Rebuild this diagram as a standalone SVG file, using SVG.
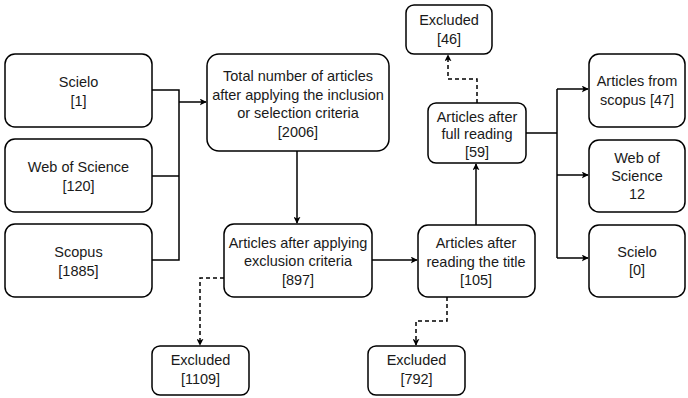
<svg xmlns="http://www.w3.org/2000/svg" width="688" height="398" viewBox="0 0 688 398">
<defs>
<style>
.box{fill:#fff;stroke:#000;stroke-width:1.5}
.t{font-family:"Liberation Sans",Arial,sans-serif;font-size:14.5px;fill:#1a1a1a;text-anchor:middle}
.c{fill:none;stroke:#000;stroke-width:1.5}
.d{fill:none;stroke:#000;stroke-width:1.5;stroke-dasharray:4 3}
</style>
<marker id="a" viewBox="0 0 10 10" refX="9" refY="5" markerWidth="7" markerHeight="7" markerUnits="userSpaceOnUse" orient="auto">
<path d="M0,0 L10,5 L0,10 L2.5,5 Z" fill="#000"/>
</marker>
</defs>
<rect width="688" height="398" fill="#fff"/>
<g id="connectors">
<path class="c" d="M152,90 H179 V260 H152"/>
<path class="c" d="M152,176 H179"/>
<path class="c" d="M179,102 H206" marker-end="url(#a)"/>
<path class="c" d="M297,151 V223" marker-end="url(#a)"/>
<path class="c" d="M372,260 H417" marker-end="url(#a)"/>
<path class="c" d="M476,225 V164" marker-end="url(#a)"/>
<path class="c" d="M526,133 H557 M557,89 V258"/>
<path class="c" d="M557,89 H588" marker-end="url(#a)"/>
<path class="c" d="M557,175 H588" marker-end="url(#a)"/>
<path class="c" d="M557,258 H588" marker-end="url(#a)"/>
<path class="d" d="M477,103 V79 H448 V55" marker-end="url(#a)"/>
<path class="d" d="M224,278 H200 V345" marker-end="url(#a)"/>
<path class="d" d="M447,297 V321 H416 V345" marker-end="url(#a)"/>
</g>
<g id="scielo"><rect class="box" x="5" y="54" width="147" height="73" rx="10"/><text class="t" x="78.5" y="87">Scielo</text><text class="t" x="78.5" y="106">[1]</text></g>
<g id="wos"><rect class="box" x="5" y="139" width="147" height="73" rx="10"/><text class="t" x="78.5" y="172">Web of Science</text><text class="t" x="78.5" y="191">[120]</text></g>
<g id="scopus"><rect class="box" x="5" y="224" width="147" height="73" rx="10"/><text class="t" x="78.5" y="257">Scopus</text><text class="t" x="78.5" y="276">[1885]</text></g>
<g id="total"><rect class="box" x="207" y="54" width="182" height="97" rx="12"/><text class="t" x="298" y="81">Total number of articles</text><text class="t" x="298" y="99.5">after applying the inclusion</text><text class="t" x="298" y="118">or selection criteria</text><text class="t" x="298" y="136.5">[2006]</text></g>
<g id="exclusion"><rect class="box" x="224" y="224" width="148" height="73" rx="10"/><text class="t" x="298" y="248">Articles after applying</text><text class="t" x="298" y="266">exclusion criteria</text><text class="t" x="298" y="285">[897]</text></g>
<g id="title"><rect class="box" x="418" y="225" width="117" height="72" rx="10"/><text class="t" x="476" y="248">Articles after</text><text class="t" x="476" y="266.5">reading the title</text><text class="t" x="476" y="285">[105]</text></g>
<g id="full"><rect class="box" x="428" y="103" width="98" height="60" rx="8"/><text class="t" x="477" y="122">Articles after</text><text class="t" x="477" y="139">full reading</text><text class="t" x="477" y="157">[59]</text></g>
<g id="exc46"><rect class="box" x="406" y="5" width="86" height="49" rx="8"/><text class="t" x="449" y="25">Excluded</text><text class="t" x="449" y="44">[46]</text></g>
<g id="exc1109"><rect class="box" x="152" y="346" width="97" height="49" rx="8"/><text class="t" x="200.5" y="365">Excluded</text><text class="t" x="200.5" y="384">[1109]</text></g>
<g id="exc792"><rect class="box" x="368" y="346" width="97" height="49" rx="8"/><text class="t" x="416.5" y="365">Excluded</text><text class="t" x="416.5" y="384">[792]</text></g>
<g id="r-scopus"><rect class="box" x="589" y="54" width="96" height="73" rx="10"/><text class="t" x="637" y="86">Articles from</text><text class="t" x="637" y="105">scopus [47]</text></g>
<g id="r-wos"><rect class="box" x="589" y="140" width="96" height="72" rx="10"/><text class="t" x="637" y="163">Web of</text><text class="t" x="637" y="181">Science</text><text class="t" x="637" y="199">12</text></g>
<g id="r-scielo"><rect class="box" x="589" y="225" width="96" height="72" rx="10"/><text class="t" x="637" y="257">Scielo</text><text class="t" x="637" y="275">[0]</text></g>
</svg>
